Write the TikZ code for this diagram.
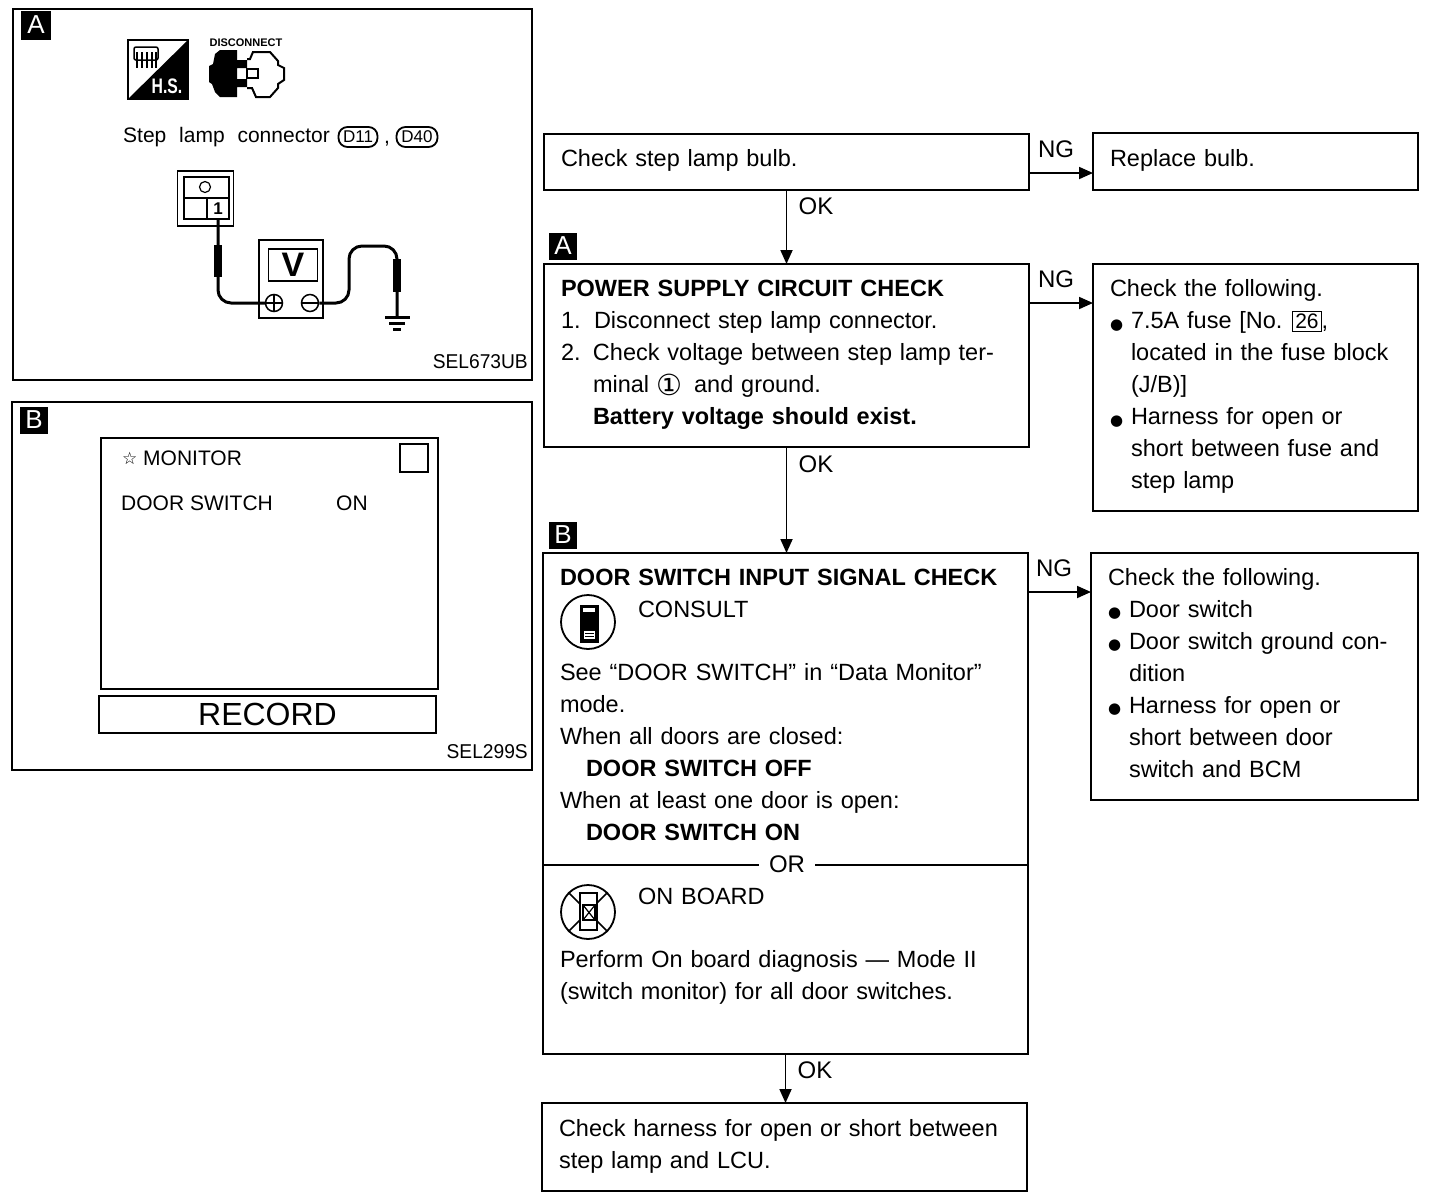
\documentclass[tikz,border=0pt]{standalone}
\usepackage{fontspec}
\setmainfont{Liberation Sans}
\newfontfamily\symfont{DejaVu Sans}
\usetikzlibrary{arrows.meta, calc}
\newcommand{\bul}{\makebox[21pt][l]{\hspace{0pt}\raisebox{-.5pt}{\symfont\fontsize{15}{15}\selectfont ●}}}
\newcommand{\ind}{\hspace*{21pt}}
\newcommand{\fusebox}[1]{{\setlength{\fboxsep}{2pt}\setlength{\fboxrule}{1pt}\hspace{-2pt}\fbox{\fontsize{21}{21}\selectfont #1}}}
\newcommand{\lastdepth}[1]{\rule[-#1]{0pt}{0pt}}
\tikzset{
	flowbox/.style={draw, line width=1.8pt, anchor=north west, align=left, inner xsep=17pt, inner ysep=0pt, outer sep=0pt, font=\fontsize{23.5}{32}\selectfont},
	flowarrow/.style={-{Triangle[length=14pt, width=12pt]}, line width=1.8pt},
	flowlabel/.style={font=\fontsize{24}{32}\selectfont, inner sep=0pt},
	badge/.style={fill=black, text=white, minimum width=28pt, minimum height=27pt, inner sep=0pt, font=\fontsize{26}{26}\selectfont},
	panel/.style={draw, line width=1.8pt, anchor=north west, inner sep=0pt, outer sep=0pt},
	paneltext/.style={anchor=west, inner sep=0pt, font=\fontsize{21}{26}\selectfont},
	seltext/.style={anchor=east, inner sep=0pt, xscale=.96, font=\fontsize{20}{26}\selectfont},
	wire/.style={line width=3pt, rounded corners=13pt},
}
\begin{document}
\begin{tikzpicture}[x=1pt, y=-1pt]
	\useasboundingbox (0,0) rectangle (1440,1200);

	\begin{scope}
	\node (panela) at (13,9) [panel, minimum width=519pt, minimum height=371pt] {};
	\node (badgea) at (36,25) [badge, minimum width=30pt, minimum height=29pt] {A};
	\node (lampcon) at (123,137) [paneltext] {Step\hspace{7pt} lamp\hspace{7pt} connector};
	\node (dee11) at (358,137) [draw, line width=1.8pt, rounded corners=9pt, minimum width=39pt, minimum height=20pt, inner sep=0pt, font=\fontsize{17}{17}\selectfont] {D11};
	\node (comma) at (387,143) [paneltext, anchor=base] {,};
	\node (dee40) at (417,137) [draw, line width=1.8pt, rounded corners=9pt, minimum width=41pt, minimum height=20pt, inner sep=0pt, font=\fontsize{17}{17}\selectfont] {D40};
	\node (sela) at (528,362) [seltext] {SEL673UB};
	\end{scope}

	\begin{scope}
	\draw[line width=1.5pt] (128,40) rectangle (188,99);
	\fill (188,40) -- (188,99) -- (128,99) -- cycle;
	\draw[line width=1.5pt, rounded corners=2pt] (134,47) -- (158,47) -- (158,60) -- (134,60) -- cycle;
	\foreach \wx in {137,142,147,152,156} {
		\draw[line width=1.2pt] (\wx,52) -- (\wx,68);
	}
	\node (hslabel) at (167,86) [text=white, inner sep=0pt, font=\fontsize{21}{21}\selectfont\bfseries, xscale=.75] {H.S.};
	\node (disconnect) at (246,43) [inner sep=0pt, font=\fontsize{11}{11}\selectfont\bfseries] {DISCONNECT};
	\fill (209,66) -- (213,64) -- (215,54) -- (220,50) -- (237,50) -- (237,60) -- (247,60) -- (247,68) -- (237,68) -- (237,79) -- (247,79) -- (247,87) -- (237,87) -- (237,97) -- (220,97) -- (215,92) -- (212,84) -- (209,82) -- cycle;
	\draw[line width=2pt] (247,59) -- (250,59) -- (253,52) -- (270,52) -- (278,61) -- (278,65) -- (284,68) -- (284,80) -- (278,84) -- (278,88) -- (270,97) -- (256,97) -- (252,88) -- (247,88);
	\draw[line width=2pt] (247,69) rectangle (258,78);
	\end{scope}

	\begin{scope}
	\node (plug) at (205.5,198.5) [panel, anchor=center, minimum width=56pt, minimum height=55pt] {};
	\node (plugtop) at (206.5,187.5) [panel, anchor=center, minimum width=45pt, minimum height=21pt] {};
	\node (pinhole) at (205,187) [draw, circle, line width=1.2pt, minimum size=11pt, inner sep=0pt] {};
	\node (pinblank) at (195.5,208.5) [panel, anchor=center, minimum width=23pt, minimum height=21pt] {};
	\node (pinone) at (218,208.5) [panel, anchor=center, minimum width=22pt, minimum height=21pt, font=\fontsize{17}{17}\selectfont\bfseries] {1};
	\node (meter) at (291,279) [panel, anchor=center, minimum width=64pt, minimum height=78pt] {};
	\node (display) at (293,265) [panel, anchor=center, minimum width=49pt, minimum height=32pt, font=\fontsize{34}{34}\selectfont\bfseries] {V};
	\node (vplus) at (274,303) [draw, circle, line width=1.5pt, minimum size=17pt, inner sep=0pt] {};
	\node (vminus) at (310,303) [draw, circle, line width=1.5pt, minimum size=17pt, inner sep=0pt] {};
	\draw[line width=1.5pt] (vplus.west) -- (vplus.east);
	\draw[line width=1.5pt] (vplus.north) -- (vplus.south);
	\draw[line width=1.5pt] (vminus.west) -- (vminus.east);
	\coordinate (gnd) at (397,317);
	\draw[wire] (pinone.south) |- (vplus.west);
	\draw[wire] (vminus.east) -- (349,303) -- (349,246) -- (397,246) -- (gnd);
	\fill (214,245) rectangle (222,277);
	\fill (393,259) rectangle (401,292);
	\draw[line width=3pt] (385,317) -- (410,317);
	\draw[line width=3pt] (389,323) -- (405,323);
	\draw[line width=3pt] (393,329) -- (401,329);
	\end{scope}

	\begin{scope}
	\node (panelb) at (12,402) [panel, minimum width=520pt, minimum height=368pt] {};
	\node (badgeb) at (34,420) [badge] {B};
	\node (screen) at (101,438) [panel, minimum width=337pt, minimum height=251pt] {};
	\node (star) at (122,458) [paneltext, font=\fontsize{17}{17}\symfont] {☆};
	\node (monitor) at (143,458) [paneltext] {MONITOR};
	\node (square) at (414,458) [panel, anchor=center, minimum size=28pt] {};
	\node (doorsw) at (121,503) [paneltext] {DOOR SWITCH};
	\node (swon) at (336,503) [paneltext] {ON};
	\node (record) at (99,696) [panel, minimum width=337pt, minimum height=37pt, font=\fontsize{32}{32}\selectfont] {RECORD};
	\node (selb) at (528,752) [seltext] {SEL299S};
	\end{scope}

	\begin{scope}
	\node (bulb) at (544,134) [flowbox, text width=451pt, minimum height=56pt] {Check step lamp bulb.\lastdepth{9pt}};
	\node (replace) at (1093,133) [flowbox, text width=291pt, minimum height=57pt] {Replace bulb.\lastdepth{7pt}};
	\node (ngone) at (1056,149) [flowlabel] {NG};
	\node (okone) at (816,206) [flowlabel] {OK};
	\end{scope}

	\begin{scope}
	\node (badgec) at (563,246) [badge] {A};
	\node (power) at (544,264) [flowbox, text width=451pt, minimum height=183pt] {\textbf{POWER SUPPLY CIRCUIT CHECK}\\
		\makebox[33pt][l]{1.}Disconnect step lamp connector.\\
		\makebox[32pt][l]{2.}Check voltage between step lamp ter-\\
		\hspace*{32pt}minal\hspace{7pt}\raisebox{-3pt}{\symfont\fontsize{29}{32}\selectfont ①}\hspace{12pt}and ground.\\
		\hspace*{32pt}\textbf{Battery voltage should exist.}\lastdepth{7pt}};
	\node (fuse) at (1093,264) [flowbox, text width=291pt, minimum height=247pt] {Check the following.\\
		\bul 7.5A fuse [No. \fusebox{26},\\
		\ind located in the fuse block\\
		\ind (J/B)]\\
		\bul Harness for open or\\
		\ind short between fuse and\\
		\ind step lamp\lastdepth{7pt}};
	\node (ngtwo) at (1056,279) [flowlabel] {NG};
	\node (oktwo) at (816,464) [flowlabel] {OK};
	\end{scope}

	\begin{scope}
	\node (badged) at (563,535) [badge] {B};
	\node (door) at (543,553) [flowbox, text width=451pt, minimum height=312pt] {\textbf{DOOR SWITCH INPUT SIGNAL CHECK}\\
		\hspace*{78pt}CONSULT\\[31pt]
		See “DOOR SWITCH” in “Data Monitor”\\
		mode.\\
		When all doors are closed:\\
		\hspace*{26pt}\textbf{DOOR SWITCH OFF}\\
		When at least one door is open:\\
		\hspace*{26pt}\textbf{DOOR SWITCH ON}\lastdepth{8pt}};
	\node (onboard) at (543,865) [flowbox, text width=451pt, minimum height=189pt] {\hspace*{78pt}ON BOARD\\[31pt]
		Perform On board diagnosis --- Mode II\\
		(switch monitor) for all door switches.\lastdepth{31pt}};
	\node (orlabel) at (787,864) [flowlabel, fill=white, inner xsep=10pt] {OR};
	\node (doorfix) at (1091,553) [flowbox, text width=293pt, minimum height=247pt] {Check the following.\\
		\bul Door switch\\
		\bul Door switch ground con-\\
		\ind dition\\
		\bul Harness for open or\\
		\ind short between door\\
		\ind switch and BCM\lastdepth{8pt}};
	\node (ngthree) at (1054,568) [flowlabel] {NG};
	\node (okthree) at (815,1070) [flowlabel] {OK};
	\node (harness) at (542,1103) [flowbox, text width=451pt, minimum height=88pt] {Check harness for open or short between\\
		step lamp and LCU.\lastdepth{7pt}};
	\end{scope}

	\begin{scope}
	\node (consult) at (588,622) [draw, circle, line width=1.8pt, minimum size=54pt, inner sep=0pt] {};
	\draw[fill=black, line width=1pt] (580,605) rectangle (598,642);
	\fill[white] (583,608) rectangle (595,612);
	\fill[white] (584,631) rectangle (595,639);
	\draw[line width=.8pt] (585,633) -- (594,633);
	\draw[line width=.8pt] (585,636) -- (594,636);
	\node (noconsult) at (588,912) [draw, circle, line width=1.8pt, minimum size=54pt, inner sep=0pt] {};
	\draw[line width=1.5pt] (noconsult.north west) -- (noconsult.south east);
	\draw[line width=1.5pt] (noconsult.north east) -- (noconsult.south west);
	\draw[fill=white, line width=1.5pt] (580,893) rectangle (597,930);
	\draw[line width=1.5pt] (583,905) rectangle (595,920);
	\draw[line width=1.2pt] (583,905) -- (595,920);
	\draw[line width=1.2pt] (595,905) -- (583,920);
	\end{scope}

	\begin{scope}[flowarrow]
	\draw ([yshift=-11pt]bulb.east) -- ([yshift=-11.5pt]replace.west);
	\draw (bulb.south) -- (bulb.south |- power.north);
	\draw ([yshift=52.5pt]power.east) -- ([yshift=84.5pt]fuse.west);
	\draw (power.south) -- (power.south |- door.north);
	\draw ([yshift=117pt]door.east) -- ([yshift=84.5pt]doorfix.west);
	\draw (onboard.south) -- (onboard.south |- harness.north);
	\end{scope}
\end{tikzpicture}
\end{document}
